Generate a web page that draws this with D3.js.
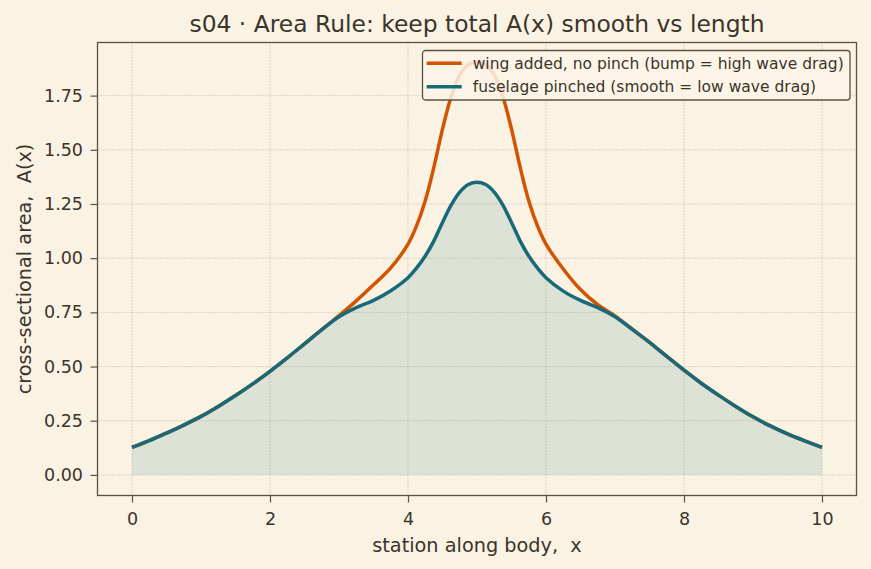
<!DOCTYPE html>
<html>
<head>
<meta charset="utf-8">
<script src="https://cdn.jsdelivr.net/npm/d3@7"></script>
<style>
  html, body { margin: 0; padding: 0; background: #faf3e3; }
  svg { display: block; font-family: "DejaVu Sans", sans-serif; }
</style>
</head>
<body>
<div id="chart"></div>
<script>
// ---------------------------------------------------------------
//  DATA
// ---------------------------------------------------------------
const stations = [
  0, 0.25, 0.5, 0.75, 1, 1.25, 1.5, 1.75, 2, 2.25, 2.5, 2.75, 3, 3.25, 3.5, 3.75,
  4, 4.125, 4.25, 4.375, 4.5, 4.625, 4.75, 4.875, 5, 5.125, 5.25, 5.375, 5.5, 5.625, 5.75, 5.875, 6,
  6.25, 6.5, 6.75, 7, 7.25, 7.5, 7.75, 8, 8.25, 8.5, 8.75, 9, 9.25, 9.5, 9.75, 10
];
const wingNoPinch = [
  0.127, 0.158, 0.193, 0.23, 0.27, 0.316, 0.366, 0.42, 0.478, 0.54, 0.605, 0.67, 0.735, 0.803, 0.877, 0.955,
  1.065, 1.15, 1.265, 1.42, 1.595, 1.745, 1.845, 1.892, 1.905, 1.892, 1.845, 1.745, 1.595, 1.42, 1.265, 1.15, 1.065,
  0.95, 0.855, 0.785, 0.733, 0.672, 0.612, 0.547, 0.483, 0.423, 0.368, 0.316, 0.268, 0.226, 0.189, 0.157, 0.127
];
const fuselagePinched = [
  0.127, 0.158, 0.193, 0.23, 0.27, 0.316, 0.366, 0.42, 0.478, 0.54, 0.605, 0.67, 0.73, 0.772, 0.805, 0.85,
  0.91, 0.955, 1.01, 1.08, 1.165, 1.245, 1.305, 1.34, 1.35, 1.34, 1.305, 1.245, 1.165, 1.08, 1.01, 0.955, 0.91,
  0.848, 0.805, 0.772, 0.73, 0.672, 0.612, 0.547, 0.483, 0.423, 0.368, 0.316, 0.268, 0.226, 0.189, 0.157, 0.127
];
const seriesNames = [
  "wing added, no pinch (bump = high wave drag)",
  "fuselage pinched (smooth = low wave drag)"
];
const xTicks = [0, 2, 4, 6, 8, 10];
const yTicks = [0, 0.25, 0.5, 0.75, 1.0, 1.25, 1.5, 1.75];

// ---------------------------------------------------------------
//  LAYOUT / STYLE
// ---------------------------------------------------------------
const WIDTH = 871, HEIGHT = 569;
const PLOT_LEFT = 97.5, PLOT_RIGHT = 856.5, PLOT_TOP = 42.5, PLOT_BOTTOM = 495.5;
const TICK_LEN = 7;
const LINE_W = 3.5;

const BG = "#faf3e3";
const INK = "#3b342b";
const SPINE = "#5b5142";
const GRID = "#aaa293";
const ORANGE = "#d35400";
const TEAL = "#196a78";
const FILL = "#dce2d5";

const svg = d3.select("#chart").append("svg")
  .attr("width", WIDTH)
  .attr("height", HEIGHT)
  .style("background", BG);

const xScale = d3.scaleLinear().domain([-0.5, 10.5]).range([PLOT_LEFT, PLOT_RIGHT]);
const yScale = d3.scaleLinear().domain([-0.095, 1.995]).range([PLOT_BOTTOM, PLOT_TOP]);

const rowsWing = stations.map((x, i) => ({ x: x, y: wingNoPinch[i] }));
const rowsPinch = stations.map((x, i) => ({ x: x, y: fuselagePinched[i] }));

// fill under the pinched curve
const areaGen = d3.area()
  .x(d => xScale(d.x))
  .y0(yScale(0))
  .y1(d => yScale(d.y))
  .curve(d3.curveCatmullRom.alpha(0.5));

svg.append("path")
  .datum(rowsPinch)
  .attr("d", areaGen)
  .attr("fill", FILL);

// grid
const gridG = svg.append("g").attr("id", "grid");
gridG.selectAll("line.gx").data(xTicks).join("line")
  .attr("x1", d => xScale(d)).attr("x2", d => xScale(d))
  .attr("y1", PLOT_TOP).attr("y2", PLOT_BOTTOM)
  .attr("stroke", GRID).attr("stroke-width", 0.8).attr("stroke-dasharray", "1,2");
gridG.selectAll("line.gy").data(yTicks).join("line")
  .attr("y1", d => yScale(d)).attr("y2", d => yScale(d))
  .attr("x1", PLOT_LEFT).attr("x2", PLOT_RIGHT)
  .attr("stroke", GRID).attr("stroke-width", 0.8).attr("stroke-dasharray", "1,2");

// lines
const lineGen = d3.line()
  .x(d => xScale(d.x))
  .y(d => yScale(d.y))
  .curve(d3.curveCatmullRom.alpha(0.5));

svg.append("path")
  .datum(rowsWing)
  .attr("d", lineGen)
  .attr("fill", "none")
  .attr("stroke", ORANGE)
  .attr("stroke-width", LINE_W)
  .attr("stroke-linejoin", "round");

svg.append("path")
  .datum(rowsPinch)
  .attr("d", lineGen)
  .attr("fill", "none")
  .attr("stroke", TEAL)
  .attr("stroke-width", LINE_W)
  .attr("stroke-linejoin", "round");

// axes
const xAxis = svg.append("g")
  .attr("transform", `translate(0,${PLOT_BOTTOM})`)
  .call(d3.axisBottom(xScale).tickValues(xTicks).tickFormat(d3.format("d")).tickSize(TICK_LEN).tickPadding(10.5));
const yAxis = svg.append("g")
  .attr("transform", `translate(${PLOT_LEFT},0)`)
  .call(d3.axisLeft(yScale).tickValues(yTicks).tickFormat(d3.format(".2f")).tickSize(TICK_LEN).tickPadding(7.5));

[xAxis, yAxis].forEach(ax => {
  ax.select(".domain").remove();
  ax.selectAll(".tick line").attr("stroke", SPINE).attr("stroke-width", 1.2);
  ax.selectAll(".tick text")
    .attr("fill", INK)
    .style("font-size", "17.5px")
    .style("font-family", "DejaVu Sans, sans-serif");
});

// frame
svg.append("rect")
  .attr("x", PLOT_LEFT).attr("y", PLOT_TOP)
  .attr("width", PLOT_RIGHT - PLOT_LEFT).attr("height", PLOT_BOTTOM - PLOT_TOP)
  .attr("fill", "none").attr("stroke", SPINE).attr("stroke-width", 1.3);

// title + axis labels
svg.append("text")
  .attr("x", (PLOT_LEFT + PLOT_RIGHT) / 2).attr("y", 32)
  .attr("text-anchor", "middle")
  .attr("fill", INK)
  .style("font-size", "23.4px")
  .text("s04 · Area Rule: keep total A(x) smooth vs length");

svg.append("text")
  .attr("x", (PLOT_LEFT + PLOT_RIGHT) / 2).attr("y", 552)
  .attr("text-anchor", "middle")
  .attr("fill", INK)
  .style("font-size", "19.3px")
  .style("white-space", "pre")
  .text("station along body,  x");

svg.append("text")
  .attr("transform", `translate(30.5,${(PLOT_TOP + PLOT_BOTTOM) / 2}) rotate(-90)`)
  .attr("text-anchor", "middle")
  .attr("fill", INK)
  .style("font-size", "19.3px")
  .style("white-space", "pre")
  .text("cross-sectional area,  A(x)");

// legend
const legend = svg.append("g").attr("transform", "translate(422.5,50.5)");
legend.append("rect")
  .attr("width", 427.5).attr("height", 49.5).attr("rx", 3)
  .attr("fill", "#fbf5e8").attr("fill-opacity", 0.85)
  .attr("stroke", SPINE).attr("stroke-width", 1.3);
const legendColors = [ORANGE, TEAL];
const legendRows = legend.selectAll("g.row").data(seriesNames).join("g")
  .attr("transform", (d, i) => `translate(0,${12.8 + i * 23.4})`);
legendRows.append("line")
  .attr("x1", 4.2).attr("x2", 39.2)
  .attr("stroke", (d, i) => legendColors[i]).attr("stroke-width", LINE_W);
legendRows.append("text")
  .attr("x", 50.2).attr("dy", "0.35em")
  .attr("fill", INK)
  .style("font-size", "15.5px")
  .text(d => d);
</script>
</body>
</html>
